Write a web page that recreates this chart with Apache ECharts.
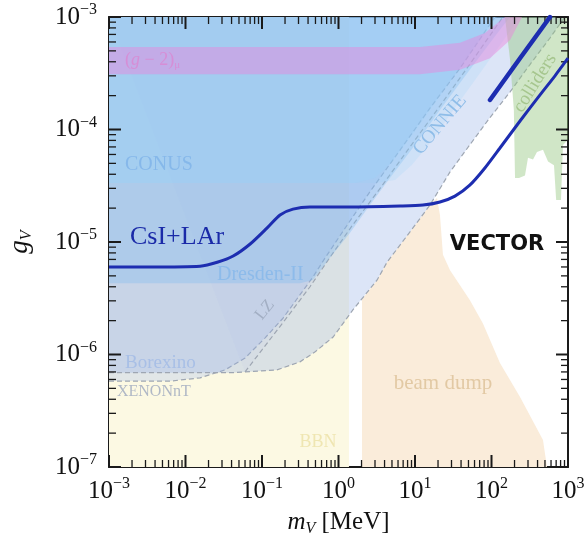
<!DOCTYPE html>
<html><head><meta charset="utf-8">
<script src="https://cdn.jsdelivr.net/npm/echarts@6/dist/echarts.min.js"></script>
<style>html,body{margin:0;padding:0;background:#fff}#c{width:588px;height:547px}</style>
</head><body><div id="c"></div>
<script>
// ---------------- data ----------------
const X_MIN = 1e-3, X_MAX = 1e3, Y_MIN = 1e-7, Y_MAX = 1e-3;
const xMajor = [1e-3, 1e-2, 1e-1, 1, 10, 100, 1000];
const yMajor = [1e-7, 1e-6, 1e-5, 1e-4, 1e-3];
const xDecades = [-3, -2, -1, 0, 1, 2];
const yDecades = [-7, -6, -5, -4];
const minorFactors = [2, 3, 4, 5, 6, 7, 8, 9];

// regions: [m (MeV), g]
const bbnRegion = [[0.001,1e-7],[1.37,1e-7],[1.37,1e-3],[0.001,1e-3]];
const beamDump = [[2.03,1e-7],[2.03,3.1e-6],[3.2,4.6e-6],[4.3,6.6e-6],[8.6,1.23e-5],[15.7,2.13e-5],[19.4,2.46e-5],[21.2,1.74e-5],[23.2,7.7e-6],[28.7,5.6e-6],[52,3.05e-6],[77,1.9e-6],[129,8.4e-7],[236,4.2e-7],[471,1.74e-7],[531,1e-7]];
const xenonBound = [[0.001,5.8e-7],[0.0063,5.8e-7],[0.0155,6.2e-7],[0.033,7.3e-7],[0.060,9.3e-7],[0.109,1.4e-6],[0.188,2.1e-6],[0.314,3.4e-6],[0.465,4.9e-6],[0.667,7.2e-6],[1.22,1.33e-5],[2.58,2.8e-5],[6.4,6.6e-5],[15.7,1.55e-4],[38.7,3.5e-4],[111,1e-3]];
const borexinoBound = [[0.001,6.9e-7],[0.042,6.9e-7],[0.157,7.3e-7],[0.314,8.6e-7],[0.49,1.05e-6],[0.85,1.43e-6],[1.55,2.5e-6],[3.2,4.6e-6],[4.3,6.6e-6],[8.6,1.23e-5],[15.7,2.13e-5],[28.7,4.2e-5],[52,7.3e-5],[95,1.27e-4],[175,2.16e-4],[320,3.8e-4],[580,6.5e-4],[910,1e-3]];
const lzLine = [[0.06,7.0e-7],[0.1,1.1e-6],[0.2,2.03e-6],[0.424,4.0e-6],[0.73,6.9e-6],[1.5,1.39e-5],[3.5,3.0e-5],[8.6,7.0e-5],[21.2,1.62e-4],[52,3.8e-4],[141,1e-3]];
const dresdenBound = [[0.001,4.3e-6],[0.314,4.3e-6],[0.465,4.6e-6],[0.77,7.2e-6],[1.41,1.2e-5],[2.58,2.13e-5],[4.7,3.7e-5],[10,7.3e-5],[21.2,1.49e-4],[52,3.4e-4],[129,7.7e-4],[175,1e-3]];
const connieBound = [[0.001,3.35e-5],[3.0,3.35e-5],[5.5,3.56e-5],[9.1,4.83e-5],[15.7,7.6e-5],[28.7,1.35e-4],[61,2.75e-4],[129,5.6e-4],[236,1e-3]];
const conusBound = [[0.001,3.35e-5],[1.64,3.35e-5],[3.0,3.7e-5],[5.0,5.15e-5],[8.6,8.4e-5],[15.7,1.49e-4],[33,3.05e-4],[71,6.25e-4],[118,1e-3]];
const colliders = [[150,1e-3],[1000,1e-3],[1000,8.1e-5],[860,7.3e-5],[810,2.36e-5],[700,2.36e-5],[656,4.8e-5],[548,5.2e-5],[471,6.6e-5],[393,6.3e-5],[349,5.4e-5],[300,5.6e-5],[274,3.9e-5],[229,3.7e-5],[203,3.7e-5],[196,1.49e-4],[175,4.15e-4]];
const gm2Band = [[0.001,5.4e-4],[11.6,5.4e-4],[38.7,5.9e-4],[82,7.2e-4],[150,1e-3],[251,1e-3],[175,6.25e-4],[95.5,4.3e-4],[38.7,3.4e-4],[11.6,3.1e-4],[0.001,3.1e-4]];
const csiLAr = [[0.001,6.0e-6],[0.0034,6.0e-6],[0.0155,6.1e-6],[0.026,6.6e-6],[0.042,7.5e-6],[0.070,9.6e-6],[0.116,1.33e-5],[0.172,1.74e-5],[0.254,1.96e-5],[0.424,2.05e-5],[1.41,2.05e-5],[6.4,2.09e-5],[12.7,2.13e-5],[21.2,2.27e-5],[33.3,2.56e-5],[52,3.2e-5],[82,4.55e-5],[129,6.85e-5],[236,1.19e-4],[431,2.03e-4],[676,3.0e-4],[1000,4.3e-4]];
const csiLArHigh = [[95.5,1.83e-4],[236,4.3e-4],[582,1e-3]];

// label anchors
const labelTexts = [
  ['gm2', '{n|(}{i|g}{n| − 2)}{s|μ}', [0.00162, 4.15e-4]],
  ['conus', 'CONUS', [0.00162, 4.83e-5]],
  ['csi', 'CsI+LAr', [0.00188, 1.11e-5]],
  ['dresden', 'Dresden-II', [0.0258, 5.09e-6]],
  ['lz', 'LZ', [0.109, 2.49e-6]],
  ['borexino', 'Borexino', [0.00162, 8.4e-7]],
  ['xenon', 'XENONnT', [0.00127, 4.64e-7]],
  ['bbn', 'BBN', [0.54, 1.67e-7]],
  ['beam', 'beam dump', [23.2, 5.47e-7]],
  ['vector', 'VECTOR', [118, 9.4e-6]],
  ['connie', 'CONNIE', [21.2, 1.1e-4]],
  ['colliders', 'colliders', [371, 2.59e-4]]
];

// ---------------- styles ----------------
const SERIF = "'Liberation Serif', 'DejaVu Serif', serif";
const labelStyles = {
  gm2: {color:'#d68ed6', size:18, align:'left', rot:0},
  conus: {color:'#86b8ea', size:20, align:'left', rot:0},
  csi: {color:'#1a2aa8', size:26, align:'left', rot:0},
  dresden: {color:'#8dbbea', size:20, align:'left', rot:0},
  lz: {color:'#a3afc4', size:17, align:'center', rot:52},
  borexino: {color:'#a8bfe6', size:19, align:'left', rot:0},
  xenon: {color:'#b0b8c6', size:16, align:'left', rot:0},
  bbn: {color:'#efe6b2', size:18, align:'center', rot:0},
  beam: {color:'#e2c9a4', size:21, align:'center', rot:0},
  vector: {color:'#111111', size:21, align:'center', rot:0, family:"'DejaVu Sans', sans-serif", weight:900},
  connie: {color:'#8fbde8', size:19, align:'center', rot:50},
  colliders: {color:'#a6c68e', size:19, align:'center', rot:58}
};

const xMinor = [], yMinor = [];
xDecades.forEach(d => minorFactors.forEach(f => xMinor.push(Number((f * Math.pow(10, d)).toPrecision(3)))));
yDecades.forEach(d => minorFactors.forEach(f => yMinor.push(Number((f * Math.pow(10, d)).toPrecision(3)))));

// tick marks as thin filled polygons, positioned via the axis scales
function tickPolys(api) {
  const lo = api.coord([X_MIN, Y_MIN]), hi = api.coord([X_MAX, Y_MAX]);
  const out = [];
  const box = (x0, y0, x1, y1) => out.push({type: 'polygon',
    shape: {points: [[x0, y0], [x1, y0], [x1, y1], [x0, y1]]}, style: {fill: '#1a1a1a'}});
  const doX = (vals, L, w) => vals.forEach(v => {
    const x = api.coord([v, 1e-5])[0];
    box(x - w / 2, lo[1] - L, x + w / 2, lo[1]);
    box(x - w / 2, hi[1], x + w / 2, hi[1] + L);
  });
  const doY = (vals, L, w) => vals.forEach(v => {
    const y = api.coord([0.01, v])[1];
    box(lo[0], y - w / 2, lo[0] + L, y + w / 2);
    box(hi[0] - L, y - w / 2, hi[0], y + w / 2);
  });
  doX(xMinor, 7, 1.3); doY(yMinor, 7, 1.3);
  doX(xMajor, 12, 2); doY(yMajor, 12, 2);
  return out;
}

function region(pts, fill, z, border, withTicks) {
  return {
    type: 'custom', coordinateSystem: 'cartesian2d', silent: true, clip: true, z: z,
    data: [pts[0]],
    renderItem: (params, api) => {
      const ch = [{type: 'polygon', shape: {points: pts.map(p => api.coord(p))}, style: {fill: fill}}];
      if (border) ch.push({
        type: 'polyline', shape: {points: border.map(p => api.coord(p))},
        style: {fill: 'none', stroke: '#9ea6b2', lineWidth: 1.2, lineDash: [5, 3]}
      });
      if (withTicks) tickPolys(api).forEach(t => ch.push(t));
      return {type: 'group', children: ch};
    }
  };
}
const closeTop = b => b.concat([[X_MIN, Y_MAX]]);

const tickRich = {
  b: {fontFamily: SERIF, fontSize: 25, lineHeight: 30, color: '#111'},
  e: {fontFamily: SERIF, fontSize: 16, lineHeight: 16, verticalAlign: 'top', color: '#111'}
};
const fmt = v => '{b|10}{e|' + String(Math.round(Math.log10(v))).replace('-', '−') + '}';

function axis(dim, pos, show) {
  const isX = dim === 'x';
  const a = {
    type: 'log', logBase: 10,
    min: isX ? X_MIN : Y_MIN, max: isX ? X_MAX : Y_MAX,
    splitNumber: isX ? 6 : 4, position: pos,
    axisLine: {show: true, onZero: false, lineStyle: {color: '#1a1a1a', width: 2}},
    axisTick: {show: false},
    axisLabel: {show: show, margin: isX ? 9 : 12, formatter: fmt, rich: tickRich},
    splitLine: {show: false}
  };
  if (show && isX) {
    Object.assign(a, {name: '{i|m}{s|V}{n| [MeV]}', nameLocation: 'middle', nameGap: 40,
      nameTextStyle: {rich: {
        i: {fontFamily: SERIF, fontStyle: 'italic', fontSize: 25, lineHeight: 30, color: '#111'},
        s: {fontFamily: SERIF, fontStyle: 'italic', fontSize: 16, lineHeight: 16, verticalAlign: 'bottom', color: '#111'},
        n: {fontFamily: SERIF, fontSize: 25, lineHeight: 30, color: '#111'}}}});
  }
  if (show && !isX) {
    Object.assign(a, {name: '{i|g}{s|V}', nameLocation: 'middle', nameGap: 74, nameRotate: 90,
      nameTextStyle: {rich: {
        i: {fontFamily: SERIF, fontStyle: 'italic', fontSize: 27, lineHeight: 30, color: '#111'},
        s: {fontFamily: SERIF, fontStyle: 'italic', fontSize: 16, lineHeight: 16, verticalAlign: 'bottom', color: '#111'}}}});
  }
  return a;
}

const labelSeries = {
  type: 'custom', coordinateSystem: 'cartesian2d', silent: true, z: 24, data: [labelTexts[0][2]],
  renderItem: (params, api) => {
    const ch = labelTexts.map(([key, text, pos]) => {
      const s = labelStyles[key];
      const p = api.coord(pos);
      const style = {
        text: text, fill: s.color, fontSize: s.size, fontFamily: s.family || SERIF,
        fontWeight: s.weight || 'normal', align: s.align, verticalAlign: 'middle'
      };
      if (key === 'gm2') {
        style.rich = {
          n: {fontSize: s.size, fontFamily: SERIF, fill: s.color, color: s.color, lineHeight: 22},
          i: {fontSize: s.size, fontFamily: SERIF, fontStyle: 'italic', fill: s.color, color: s.color, lineHeight: 22},
          s: {fontSize: 11, fontFamily: SERIF, fill: s.color, color: s.color, lineHeight: 11, verticalAlign: 'bottom'}
        };
      }
      return {type: 'text', x: p[0], y: p[1], rotation: s.rot * Math.PI / 180, style: style};
    });
    return {type: 'group', children: ch};
  }
};

const chart = echarts.init(document.getElementById('c'));
chart.setOption({
  backgroundColor: '#ffffff',
  animation: false,
  grid: {left: 109, top: 17, right: 20, bottom: 80, containLabel: false, outerBoundsMode: 'none'},
  xAxis: [axis('x', 'bottom', true), axis('x', 'top', false)],
  yAxis: [axis('y', 'left', true), axis('y', 'right', false)],
  series: [
    region(bbnRegion, '#fcf9e3', 1),
    region(beamDump, '#faecda', 2),
    region(closeTop(xenonBound), 'rgba(170,190,240,0.33)', 3, xenonBound),
    region(closeTop(borexinoBound), 'rgba(150,175,230,0.33)', 4, borexinoBound),
    region(closeTop(lzLine), 'rgba(150,175,230,0.06)', 5, lzLine),
    region(closeTop(dresdenBound), 'rgba(120,185,240,0.33)', 6),
    region(closeTop(connieBound), 'rgba(150,210,250,0.2)', 7),
    region(closeTop(conusBound), 'rgba(150,210,250,0.25)', 8),
    region(colliders, 'rgba(150,200,130,0.45)', 9),
    region(gm2Band, 'rgba(235,130,220,0.45)', 10, null, true),
    {type: 'line', data: csiLAr, symbol: 'none', smooth: 0.25, silent: true, z: 20,
     lineStyle: {color: '#1d2db0', width: 3}},
    {type: 'line', data: csiLArHigh, symbol: 'none', silent: true, z: 20,
     lineStyle: {color: '#1d2db0', width: 4.5, cap: 'round'}},
    labelSeries
  ]
});
</script>
</body></html>
